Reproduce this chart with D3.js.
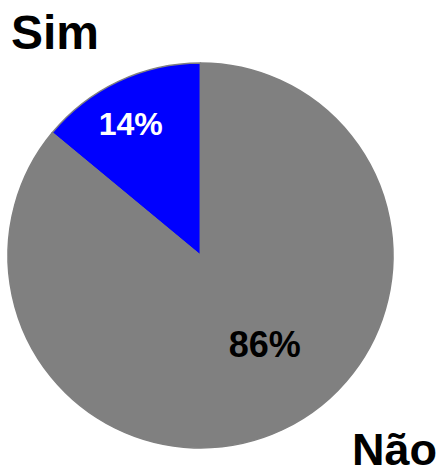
<!DOCTYPE html>
<html>
<head>
<meta charset="utf-8">
<script src="https://cdn.jsdelivr.net/npm/d3@7"></script>
<style>
  html, body { margin: 0; padding: 0; background: #ffffff; }
  svg { display: block; }
</style>
</head>
<body>
<svg id="chart" width="446" height="468"></svg>
<script>
const categories = ["Sim", "Não"];
const values = [14, 86];
const labels = ["14%", "86%"];
const colors = ["#0000ff", "#808080"];

const width = 446, height = 468;
const cx = 200.5, cy = 255.5, R = 192.5;

const svg = d3.select("#chart");
const total = d3.sum(values);
const start = -2 * Math.PI * values[0] / total;

const pie = d3.pie().sort(null).value(d => d)
  .startAngle(start).endAngle(start + 2 * Math.PI);
const arcs = pie(values);
const arc = d3.arc().innerRadius(0).outerRadius(R);

const g = svg.append("g").attr("transform", `translate(${cx},${cy})`);

g.selectAll("path").data(arcs).enter().append("path")
  .attr("d", arc)
  .attr("fill", (d, i) => colors[i])
  .attr("stroke", "#808080")
  .attr("stroke-width", 1.5)
  .attr("stroke-linejoin", "round");

// label placement (polar, relative to slice mid-angle)
const labelPlace = [
  { r: 149, shift: -2.7 * Math.PI / 180, size: 32, color: "#ffffff" },
  { r: 110, shift: -10.5 * Math.PI / 180, size: 36, color: "#000000" }
];

g.selectAll("text.pct").data(arcs).enter().append("text")
  .attr("class", "pct")
  .attr("x", (d, i) => {
    const a = (d.startAngle + d.endAngle) / 2 + labelPlace[i].shift;
    return Math.sin(a) * labelPlace[i].r;
  })
  .attr("y", (d, i) => {
    const a = (d.startAngle + d.endAngle) / 2 + labelPlace[i].shift;
    return -Math.cos(a) * labelPlace[i].r;
  })
  .attr("text-anchor", "middle")
  .attr("dominant-baseline", "central")
  .attr("font-family", "'Liberation Sans', Arial, sans-serif")
  .attr("font-weight", "bold")
  .attr("font-size", (d, i) => labelPlace[i].size)
  .attr("fill", (d, i) => labelPlace[i].color)
  .text((d, i) => labels[i]);

// category names
svg.append("text")
  .attr("x", 11).attr("y", 49)
  .attr("font-family", "'Liberation Sans', Arial, sans-serif")
  .attr("font-weight", "bold")
  .attr("font-size", 48)
  .attr("fill", "#000")
  .text(categories[0]);

svg.append("text")
  .attr("x", 352).attr("y", 465)
  .attr("font-family", "'Liberation Sans', Arial, sans-serif")
  .attr("font-weight", "bold")
  .attr("font-size", 45)
  .attr("fill", "#000")
  .text(categories[1]);
</script>
</body>
</html>
